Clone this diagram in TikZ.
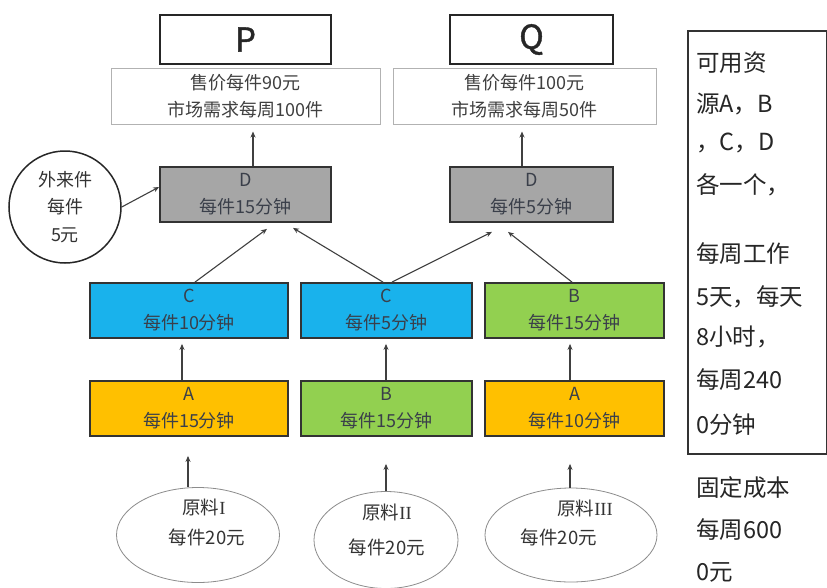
\documentclass[tikz,border=0pt]{standalone}
\usepackage{fontspec}
\setmainfont{Noto Sans CJK SC}
\newfontfamily\romanfont{Liberation Serif}
\newfontfamily\pqfont[FakeBold=1.3]{Noto Sans CJK SC}
\usetikzlibrary{shapes.geometric,arrows.meta}
\definecolor{cblue}{HTML}{19B2EC}
\definecolor{cgreen}{HTML}{92D050}
\definecolor{cyellow}{HTML}{FFC000}
\definecolor{cgray}{HTML}{A6A6A6}
\definecolor{txt}{HTML}{3A3F4A}
\tikzset{
  bigbox/.style={draw=black!85, line width=2pt, minimum height=49pt, inner sep=0pt, font=\pqfont\fontsize{33}{33}\selectfont, text=black!85},
  proc/.style={draw=black!80, line width=1.8pt, minimum height=55pt, inner sep=0pt, align=center, font=\fontsize{18}{27}\selectfont, text=txt},
  info/.style={draw=black!30, line width=1pt, minimum height=56pt, inner sep=0pt, align=center, font=\fontsize{18}{27}\selectfont, text=black!75},
  oval/.style={ellipse, draw=black!45, line width=0.8pt, inner sep=0pt},
  arr/.style={-{Stealth[length=6pt,width=5pt]}, line width=1.1pt, draw=black!75},
  lbl/.style={font=\fontsize{18.5}{18.5}\selectfont, text=black!80, inner sep=0pt},
  side/.style={anchor=west, font=\fontsize{23.5}{23.5}\selectfont, inner sep=0pt, text=black!85}
}
\begin{document}
\begin{tikzpicture}[x=1pt,y=-1pt]
\useasboundingbox[fill=white] (0,0) rectangle (827,587);

% products
\node[bigbox, minimum width=171pt] (P) at (245.5,39.5) {P};
\node[bigbox, minimum width=163pt] (Q) at (531.5,39.5) {Q};
\node[info, minimum width=269pt] (iP) at (245.5,96) {售价每件90元\\市场需求每周100件};
\node[info, minimum width=263pt] (iQ) at (524.5,96) {售价每件100元\\市场需求每周50件};

% D
\node[proc, fill=cgray, minimum width=171pt] (DL) at (245.5,194.5) {D\\每件15分钟};
\node[proc, fill=cgray, minimum width=163pt] (DR) at (531.5,194.5) {D\\每件5分钟};

% external part
\node[circle, draw=black!85, line width=1.5pt, minimum size=112pt, inner sep=0pt, align=center,
      font=\fontsize{18}{27.5}\selectfont, text=black!80] (ext) at (65,207) {外来件\\每件\\5元};

% middle row
\node[proc, fill=cblue, minimum width=198pt] (C1) at (189,310.5) {C\\每件10分钟};
\node[proc, fill=cblue, minimum width=171pt] (C2) at (386.5,310.5) {C\\每件5分钟};
\node[proc, fill=cgreen, minimum width=179pt] (B3) at (574.5,310.5) {B\\每件15分钟};

% lower row
\node[proc, fill=cyellow, minimum width=198pt] (A1) at (189,408.5) {A\\每件15分钟};
\node[proc, fill=cgreen, minimum width=171pt] (B2) at (386.5,408.5) {B\\每件15分钟};
\node[proc, fill=cyellow, minimum width=179pt] (A3) at (574.5,408.5) {A\\每件10分钟};

% raw materials
\node[oval, minimum width=163pt, minimum height=95pt] (O1) at (198,535) {};
\node[oval, minimum width=144pt, minimum height=97pt] (O2) at (386,540) {};
\node[oval, minimum width=172pt, minimum height=94pt] (O3) at (571,535) {};
\node[lbl] (O1a) at (204,507) {原料{\romanfont I}};
\node[lbl] (O1b) at (207,537) {每件20元};
\node[lbl] (O2a) at (387,512) {原料{\romanfont II}};
\node[lbl] (O2b) at (387,547) {每件20元};
\node[lbl] (O3a) at (585,508) {原料{\romanfont III}};
\node[lbl] (O3b) at (559,537) {每件20元};

% side panel
\node[draw=black!80, line width=1.5pt, minimum width=139pt, minimum height=423pt, inner sep=0pt, anchor=north west] (panel) at (687,30) {};
\node[side] (s1) at (696,63) {可用资};
\node[side] (s2) at (696,104) {源A，B};
\node[side] (s3) at (696,143) {，C，D};
\node[side] (s4) at (696,185) {各一个，};
\node[side] (s5) at (696,254) {每周工作};
\node[side] (s6) at (696,297) {5天，每天};
\node[side] (s7) at (696,337) {8小时，};
\node[side] (s8) at (696,380) {每周240};
\node[side] (s9) at (696,425) {0分钟};
\node[side] (s10) at (696,488) {固定成本};
\node[side] (s11) at (696,530) {每周600};
\node[side] (s12) at (696,572) {0元};

% connectors
\draw[arr] ([xshift=7.5pt]DL.north) -- ([xshift=7.5pt,yshift=-7pt]iP.south);
\draw[arr] ([xshift=-9.5pt]DR.north) -- ([xshift=-2.5pt,yshift=-7pt]iQ.south);
\draw[arr] (ext.east) -- ([yshift=7.5pt]DL.west);
\draw[arr] ([xshift=6pt]C1.north) -- ([xshift=21.5pt,yshift=-6pt]DL.south);
\draw[arr] ([xshift=-3.5pt]C2.north) -- ([xshift=47.5pt,yshift=-5pt]DL.south);
\draw[arr] ([xshift=5.5pt]C2.north) -- ([xshift=-39.5pt,yshift=-9pt]DR.south);
\draw[arr] ([xshift=-2.5pt]B3.north) -- ([xshift=-23.5pt,yshift=-9pt]DR.south);
\draw[arr] ([xshift=-7pt]A1.north) -- ([xshift=-7pt,yshift=-5pt]C1.south);
\draw[arr] ([xshift=-0.5pt]B2.north) -- ([xshift=-0.5pt,yshift=-5pt]C2.south);
\draw[arr] ([xshift=-4.5pt]A3.north) -- ([xshift=-4.5pt,yshift=-5pt]B3.south);
\draw[arr] ([xshift=-10pt]O1.north) -- ([xshift=-1pt,yshift=-19pt]A1.south);
\draw[arr] (O2.north) -- ([xshift=-0.5pt,yshift=-27pt]B2.south);
\draw[arr] ([xshift=-1pt]O3.north) -- ([xshift=-4.5pt,yshift=-27pt]A3.south);
\end{tikzpicture}
\end{document}
